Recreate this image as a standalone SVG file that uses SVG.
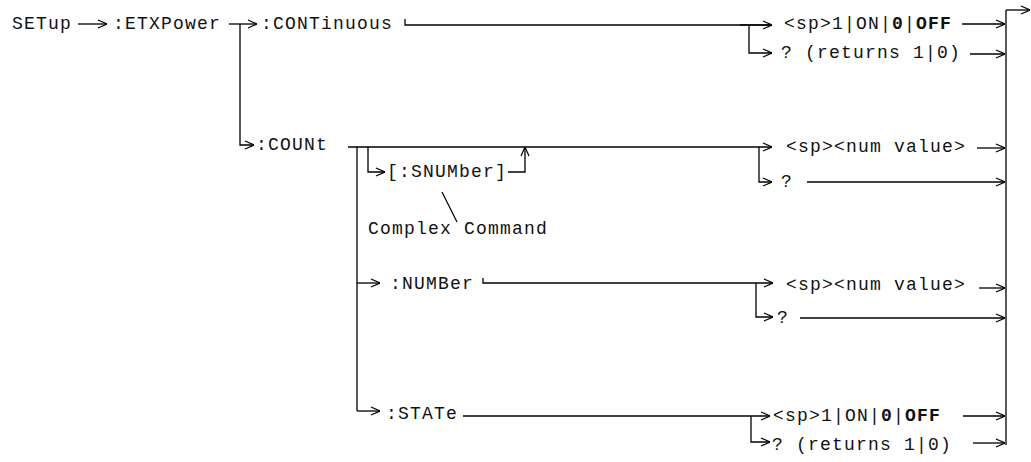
<svg xmlns="http://www.w3.org/2000/svg" width="1031" height="462" viewBox="0 0 1031 462">
<style>
text{font-family:"Liberation Mono","Courier New",monospace;font-size:18px;letter-spacing:1.2px;fill:#111}
.b{font-weight:bold}
.c line,.c path,.c polyline{stroke:#000;stroke-width:1.3;fill:none}
.c .a{marker-end:url(#arr)}
</style>
<defs>
<marker id="arr" viewBox="0 0 10 10" refX="10" refY="5" markerWidth="10" markerHeight="10" markerUnits="userSpaceOnUse" orient="auto">
<path d="M1,1 L10,5 L1,9" fill="none" stroke="#000" stroke-width="1.2"/>
</marker>
</defs>
<rect width="1031" height="462" fill="#fff"/>
<g class="c" id="connectors">
<line class="a" x1="78" y1="24" x2="107" y2="24"/>
<line class="a" x1="229" y1="24" x2="257" y2="24"/>
<polyline class="a" points="240,24 240,145 254,145"/>
<polyline points="405,19 405,25 770,25"/>
<polyline class="a" points="749,25 749,53 772,53"/>
<line class="a" x1="740" y1="25" x2="772" y2="25"/>
<line class="a" x1="962" y1="24" x2="1005" y2="24"/>
<line class="a" x1="970" y1="54" x2="1005" y2="54"/>
<line x1="1006" y1="10" x2="1006" y2="445"/>
<line class="a" x1="1006" y1="10" x2="1030" y2="10"/>
<line class="a" x1="348" y1="147" x2="772" y2="147"/>
<polyline class="a" points="759,147 759,182 772,182"/>
<line x1="357" y1="147" x2="357" y2="411"/>
<polyline class="a" points="368,147 368,172 385,172"/>
<polyline class="a" points="508,172 525,172 525,147"/>
<line x1="442" y1="192" x2="457" y2="222"/>
<line class="a" x1="977" y1="148" x2="1005" y2="148"/>
<line class="a" x1="807" y1="182" x2="1005" y2="182"/>
<line class="a" x1="357" y1="283" x2="380" y2="283"/>
<polyline class="a" points="483,278 483,283 773,283"/>
<polyline class="a" points="756,283 756,317 773,317"/>
<line class="a" x1="979" y1="288" x2="1005" y2="288"/>
<line class="a" x1="800" y1="318" x2="1005" y2="318"/>
<line class="a" x1="357" y1="411" x2="380" y2="411"/>
<line class="a" x1="463" y1="416" x2="770" y2="416"/>
<polyline class="a" points="751,416 751,442 770,442"/>
<line class="a" x1="963" y1="416" x2="1005" y2="416"/>
<line class="a" x1="973" y1="443" x2="1005" y2="443"/>
</g>
<g id="n-setup"><text x="12" y="29">SETup</text></g>
<g id="n-etxpower"><text x="113" y="29">:ETXPower</text></g>
<g id="n-continuous"><text x="261" y="29">:CONTinuous</text></g>
<g id="n-cont-bool"><text x="784" y="29">&lt;sp&gt;1|ON|<tspan class="b">0</tspan>|<tspan class="b">OFF</tspan></text></g>
<g id="n-cont-query"><text x="781" y="58">? (returns 1|0)</text></g>
<g id="n-count"><text x="256" y="150">:COUNt</text></g>
<g id="n-snumber"><text x="387" y="177">[:SNUMber]</text></g>
<g id="n-complex"><text x="368" y="234">Complex Command</text></g>
<g id="n-count-num"><text x="786" y="152">&lt;sp&gt;&lt;num value&gt;</text></g>
<g id="n-count-query"><text x="781" y="187">?</text></g>
<g id="n-number"><text x="390" y="289">:NUMBer</text></g>
<g id="n-number-num"><text x="786" y="290">&lt;sp&gt;&lt;num value&gt;</text></g>
<g id="n-number-query"><text x="777" y="323">?</text></g>
<g id="n-state"><text x="386" y="419">:STATe</text></g>
<g id="n-state-bool"><text x="773" y="421">&lt;sp&gt;1|ON|<tspan class="b">0</tspan>|<tspan class="b">OFF</tspan></text></g>
<g id="n-state-query"><text x="772" y="450">? (returns 1|0)</text></g>
</svg>
